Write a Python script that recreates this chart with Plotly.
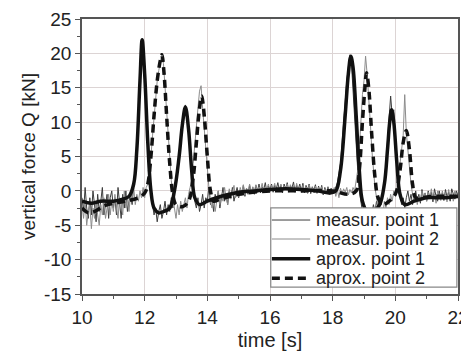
import plotly.graph_objects as go

# ---- data ----
t_meas = [round(10 + 0.05 * i, 2) for i in range(241)]

meas_point1 = [
    -1, -3, 0.5, -2.5, -4, -1, -3.5, 0, -2, -4.5,
    -0.5, -3, -1.5, 0.5, -3.5, -2, -0.5, -4, -1, 0,
    -2.5, -1, -3.5, 0.5, -2, -4, -0.5, -2.5, 0, -3,
    -1.5, -0.5, -2, 1, 2.5, 6, 11, 16.5, 21.8, 20,
    16, 11, 6.5, 2.5, 0, -2, -3.5, -2.5, -4.5, -3,
    -2, -4, -3, -1.5, -3.5, -2, -3, -1, -2.5, 0.5,
    1, 3, 5, 7.5, 9.5, 11, 12.5, 11, 9, 6,
    3, 0.5, -1.5, -2.5, -1, -3, -2, -0.5, -2.5, -1,
    -1.5, 0.5, -2, -1, -3, -0.5, -1.5, 0, -2.5, -1,
    0.5, -1.5, -0.5, -2, 0, -1, 0.5, -1.5, -0.5, 0.5,
    -1, 0, -0.5, 0.8, -0.8, 0.3, -0.5, 0.8, -0.3, 0.5,
    -0.5, 0.8, 0, 1, -0.3, 0.6, 0.2, 1.2, -0.2, 0.7,
    0.2, 1, -0.2, 0.8, 0.3, 1.2, 0, 0.8, -0.3, 1,
    0.3, 1.2, 0, 0.7, 0.4, 1.3, -0.2, 0.8, 0.2, 1,
    0, 1.1, -0.3, 0.8, 0.2, 1, -0.4, 0.6, 0.1, 0.9,
    -0.3, 0.7, -0.2, 0.8, -0.6, 0.5, -0.3, 0.6, -0.5, 0.4,
    -0.2, 0.3, 0.5, 1.2, 2.5, 4, 7, 10.5, 13, 16,
    18, 19.8, 18.5, 14.5, 11, 6, 3, 0, -1.5, -3,
    -2.5, -4, -3, -4.5, -2.5, -3.5, -2, -3, -1.5, -2.5,
    -1, -2, 0, 1.5, 4, 7, 10.5, 13.8, 11, 11.8,
    8, 4, 1, -0.5, -2, -1, -2.5, -1, 0, -1.5,
    -0.5, -2, -0.8, 0, -1.5, -0.5, -1.8, 0.2, -1, -0.3,
    -1.5, 0, -1, -0.2, -1.6, 0.3, -0.8, -1.5, 0, -1,
    -0.3, -1.4, 0.2, -0.9, -0.2, -1.5, 0.3, -0.6, -1.2, 0,
    -0.7,
]

meas_point2 = [
    -2, -4, -1.5, -5, -3, -2, -5.5, -2.5, -4, -1.5,
    -3.5, -5, -2, -3.5, -1, -4, -2.5, -0.5, -3.5, -1.5,
    -3, -0.5, -2.5, -4, -1, -2, -3.5, 0, -2.5, -1,
    -3, -0.5, -1.5, 0.5, -2, -0.5, -1.5, 0, -1, 0.5,
    -1, 0.5, 1, 3, 5, 8, 11, 14, 16, 17.5,
    19, 20, 18.5, 15, 11, 7.5, 4, 1.5, -1, -2.5,
    -4, -2, -3.5, -1.5, -3, -2, -1, -2.5, -0.5, 0.5,
    1.5, 4, 7, 10, 12, 14.5, 15.3, 12, 9, 6,
    3, 0.5, -1.5, -2.5, -1, -3, -1.5, 0, -2, -0.5,
    -1.5, 0.5, -1, -2, 0.3, -1.2, -0.3, 0.8, -1, 0,
    -0.8, 0.5, -0.3, 0.9, -0.6, 0.4, 0, 1, -0.4, 0.6,
    0, 0.9, -0.3, 0.6, 0.2, 1.1, -0.1, 0.5, 0.3, 1,
    -0.2, 0.8, 0.3, 1.1, -0.1, 0.6, 0.4, 1, 0, 0.7,
    0.2, 1, -0.2, 0.9, 0.3, 0.7, -0.1, 1.1, 0.2, 0.6,
    -0.2, 0.8, 0.1, 0.6, -0.4, 0.9, 0, 0.5, -0.3, 0.7,
    -0.4, 0.5, -0.1, 0.6, -0.5, 0.3, -0.2, 0.5, -0.6, 0.2,
    -0.3, 0.5, -0.8, 0.2, -1, 0.4, -0.5, 0.3, -0.2, 0.5,
    -0.6, 0.2, -0.3, 0.5, 0, 1.5, 3, 6, 10, 14,
    16, 19.6, 17, 14, 10, 6, 3, 0.5, -1, -2.5,
    -4, -2.5, -3.5, -1.5, -2.5, -1, -2, -0.5, -1.5, 0,
    -0.5, 0.5, 2, 4, 6, 8, 14, 8.5, 6, 3,
    1, -0.5, -1.5, -0.5, -2, -0.8, -1.5, 0, -1.2, -0.3,
    -1.5, -0.2, -1, 0.3, -1.3, -0.5, -1.8, 0, -0.8, -1.4,
    0, -1, -0.4, -1.6, 0.2, -0.9, -0.3, -1.5, 0, -1,
    -0.6,
]

t_aprox1 = [10.0, 10.3, 10.6, 11.0, 11.3, 11.5, 11.65, 11.75, 11.85, 11.92,
            12.0, 12.1, 12.2, 12.3, 12.45, 12.6, 12.8, 12.95, 13.1, 13.2,
            13.3, 13.4, 13.5, 13.6, 13.75, 14.0, 14.3, 14.7, 15.0, 15.5,
            16.0, 16.5, 17.0, 17.5, 17.9, 18.1, 18.25, 18.4, 18.5, 18.58,
            18.65, 18.75, 18.85, 18.95, 19.1, 19.3, 19.5, 19.65, 19.75, 19.82,
            19.88, 19.95, 20.05, 20.15, 20.3, 20.6, 21.0, 21.5, 22.0]
aprox_point1 = [-1.5, -1.8, -1.5, -1.5, -1.2, -0.8, 1, 6, 16, 22,
                17, 7, 0, -2.5, -3.2, -3, -2.5, 0, 5, 9.5,
                12.2, 9, 3, -1, -2, -1.5, -1, -0.5, -0.2, 0,
                0.2, 0.3, 0.2, 0, -0.3, 0, 3, 11, 17, 19.6,
                18, 11, 3, -1.5, -3, -3, -2, 1, 6, 10,
                11.8, 10, 4, -0.5, -2, -1.5, -1, -1, -0.8]

t_aprox2 = [10.0, 10.2, 10.4, 10.7, 11.0, 11.4, 11.8, 12.0, 12.1, 12.2,
            12.3, 12.4, 12.5, 12.55, 12.62, 12.7, 12.8, 12.9, 13.0, 13.2,
            13.4, 13.55, 13.65, 13.75, 13.82, 13.9, 14.0, 14.1, 14.2, 14.4,
            15.0, 16.0, 17.0, 18.0, 18.5, 18.75, 18.85, 18.95, 19.03, 19.08,
            19.15, 19.25, 19.35, 19.45, 19.6, 19.8, 20.0, 20.15, 20.25, 20.35,
            20.45, 20.55, 20.65, 20.8, 21.2, 22.0]
aprox_point2 = [-2.5, -3.2, -3, -2.2, -1.8, -1.5, -1, -0.3, 1, 5,
                11, 16, 19, 19.8, 17, 11, 4, -0.5, -2, -2.3,
                -1.5, 2, 7, 12, 13.8, 11, 5, 0, -1.5, -1.2,
                -0.5, 0, 0, 0, -0.5, 0, 3, 10, 15, 17.2,
                15, 8, 2, -1, -2, -1.5, -0.5, 3, 7, 8.8,
                6, 1, -1, -1, -0.8, -0.8]

x_ticks = [10, 12, 14, 16, 18, 20, 22]
y_ticks = [-15, -10, -5, 0, 5, 10, 15, 20, 25]
legend_names = ["measur. point 1", "measur. point 2", "aprox. point 1", "aprox. point 2"]

FONT = "Liberation Sans, Arial, sans-serif"
styles = [
    dict(color="#3c3c3c", width=1),
    dict(color="#8c8c8c", width=1),
    dict(color="#111111", width=3.5),
    dict(color="#111111", width=3.5, dash="8px,5px"),
]

fig = go.Figure()
fig.add_trace(go.Scatter(x=t_meas, y=meas_point1, mode="lines",
                         name=legend_names[0], line=styles[0]))
fig.add_trace(go.Scatter(x=t_meas, y=meas_point2, mode="lines",
                         name=legend_names[1], line=styles[1]))
fig.add_trace(go.Scatter(x=t_aprox1, y=aprox_point1, mode="lines",
                         name=legend_names[2], line_shape="spline", line=styles[2]))
fig.add_trace(go.Scatter(x=t_aprox2, y=aprox_point2, mode="lines",
                         name=legend_names[3], line_shape="spline", line=styles[3]))

axis_common = dict(
    showline=True, linecolor="#555555", linewidth=1.5, mirror=True,
    showgrid=True, gridcolor="#dcd4d4", gridwidth=1,
    ticks="outside", ticklen=5, tickcolor="#555555", tickwidth=1.2,
    zeroline=False, automargin=False, ticklabeloverflow="allow",
    tickfont=dict(family=FONT, size=19, color="#222222"),
)

fig.update_xaxes(range=[10, 22], tickvals=x_ticks,
                 ticktext=[str(v) for v in x_ticks],
                 minor=dict(dtick=1, tick0=10, ticks="outside", ticklen=3,
                            tickcolor="#555555", showgrid=False),
                 title=dict(text="time [s]", font=dict(family=FONT, size=20, color="#222222"),
                            standoff=6),
                 **axis_common)
fig.update_yaxes(range=[-15, 25], tickvals=y_ticks,
                 ticktext=[str(v) for v in y_ticks],
                 minor=dict(dtick=2.5, tick0=0, ticks="outside", ticklen=3,
                            tickcolor="#555555", showgrid=False),
                 title=dict(text="vertical force Q [kN]", font=dict(family=FONT, size=19, color="#222222"),
                            standoff=3),
                 **axis_common)

# legend drawn as a box with sample lines and labels (paper coordinates)
shapes = [dict(type="rect", xref="paper", yref="paper", x0=0.502, x1=0.997,
               y0=0.025, y1=0.313, line=dict(color="#888888", width=1.2),
               fillcolor="white", layer="above")]
annotations = []
row_y = [0.269, 0.200, 0.128, 0.057]
for name, st, yy in zip(legend_names, styles, row_y):
    ln = dict(color=st["color"], width=st["width"])
    if "dash" in st:
        ln["dash"] = st["dash"]
    shapes.append(dict(type="line", xref="paper", yref="paper", x0=0.505, x1=0.607,
                       y0=yy, y1=yy, line=ln, layer="above"))
    annotations.append(dict(text=name, xref="paper", yref="paper", x=0.618, y=yy,
                            xanchor="left", yanchor="middle", showarrow=False,
                            font=dict(family=FONT, size=18, color="#222222")))

# the page adds an 8px body margin, so the figure is sized to fit the remaining window
fig.update_layout(
    width=461, height=344,
    margin=dict(l=74, r=11, t=11, b=58),
    plot_bgcolor="white", paper_bgcolor="white",
    showlegend=False,
    shapes=shapes, annotations=annotations,
    font=dict(family=FONT),
)

fig.write_html("out.html")
